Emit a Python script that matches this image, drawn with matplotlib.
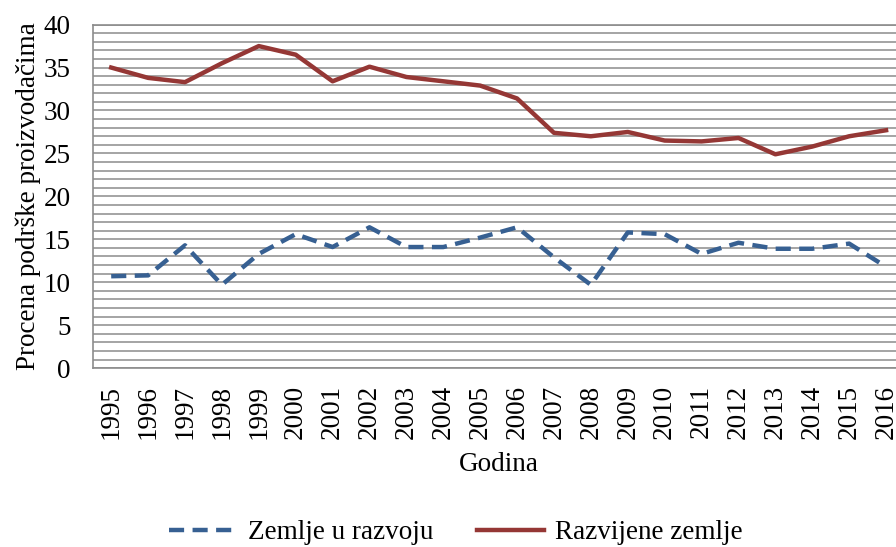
import numpy as np
import matplotlib.pyplot as plt
from matplotlib.ticker import MultipleLocator

# ── data ─────────────────────────────────────────────────────────────────────
years = [str(y) for y in range(1995, 2017)]
zemlje_u_razvoju = [10.7, 10.8, 14.3, 9.7, 13.3, 15.6, 14.1, 16.4, 14.1, 14.1, 15.2,
                    16.4, 12.9, 9.7, 15.8, 15.6, 13.3, 14.6, 13.9, 13.9, 14.5, 11.8]
razvijene_zemlje = [35.0, 33.8, 33.3, 35.5, 37.5, 36.5, 33.4, 35.1, 33.9, 33.4, 32.9,
                    31.4, 27.4, 27.0, 27.5, 26.5, 26.4, 26.8, 24.9, 25.8, 27.0, 27.7]

plt.rcParams['font.family'] = ['Liberation Serif', 'DejaVu Serif']
plt.rcParams['font.size'] = 19.5

fig = plt.figure(figsize=(8.96, 5.47), dpi=100)
# plot area runs a little past the right edge, like the cropped original
ax = fig.add_axes([0.1035, 0.327, 0.906, 0.628])

x = np.arange(len(years))
ax.plot(x, zemlje_u_razvoju, color='#376092', lw=3.2, ls=(0, (3.4, 1.9)),
        label='Zemlje u razvoju')
ax.plot(x, razvijene_zemlje, color='#953735', lw=3.2, label='Razvijene zemlje')

ax.set_xlim(-0.5, len(years) - 0.5)
ax.set_ylim(0, 40)
ax.yaxis.set_major_locator(MultipleLocator(5))
ax.yaxis.set_minor_locator(MultipleLocator(1))
ax.grid(True, which='both', axis='y', color='#8c8c8c', lw=1.1)
ax.set_axisbelow(True)

ax.set_xticks(x)
ax.set_xticklabels(years, rotation=90)
ax.tick_params(axis='both', which='both', length=0)
ax.tick_params(axis='y', pad=16)
ax.tick_params(axis='x', pad=12)
for s in ax.spines.values():
    s.set_color('#8c8c8c')
    s.set_linewidth(1.2)

ax.set_xlabel('Godina', labelpad=9)
ax.set_ylabel('Procena podrške proizvodačima', labelpad=2)

fig.legend(loc='center', bbox_to_anchor=(0.509, 0.026), ncol=2, frameon=False,
           handlelength=2.5, columnspacing=1.6, handletextpad=0.4)

fig.savefig('out.png', dpi=100)
